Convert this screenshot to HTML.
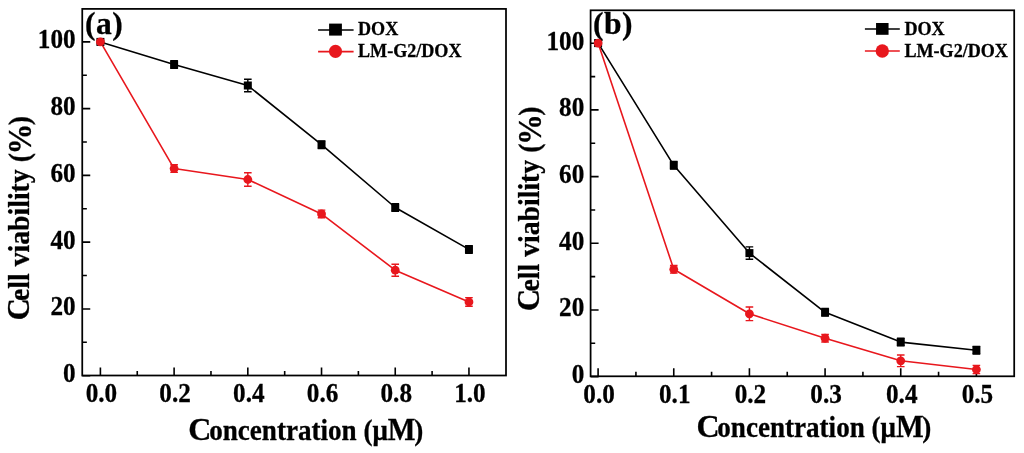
<!DOCTYPE html>
<html><head><meta charset="utf-8"><style>
html,body{margin:0;padding:0;background:#fff;}
svg{display:block;filter:blur(0.35px);}
text{font-family:"Liberation Serif",serif;font-weight:bold;fill:#000;stroke:#000;stroke-width:0.3px;}
.tx{font-size:28px;}
.ty{font-size:28px;}
.lg{font-size:18.7px;}
.ti{font-size:30px;}
.pl{font-size:31.5px;letter-spacing:0.5px;}
</style></head><body>
<svg width="1024" height="453" viewBox="0 0 1024 453">
<rect width="1024" height="453" fill="#fff"/>
<rect x="82.25" y="8.90" width="423.75" height="366.60" fill="none" stroke="#000" stroke-width="1.75"/>
<path d="M100.40,375.50V367.50M174.11,375.50V367.50M247.82,375.50V367.50M321.53,375.50V367.50M395.24,375.50V367.50M468.95,375.50V367.50M137.25,375.50V370.90M210.97,375.50V370.90M284.68,375.50V370.90M358.38,375.50V370.90M432.10,375.50V370.90M82.25,375.70H90.25M82.25,308.93H90.25M82.25,242.16H90.25M82.25,175.39H90.25M82.25,108.62H90.25M82.25,41.85H90.25M82.25,342.31H86.85M82.25,275.54H86.85M82.25,208.78H86.85M82.25,142.00H86.85M82.25,75.24H86.85" stroke="#000" stroke-width="1.6" fill="none"/>
<text transform="translate(101.40,401.90) scale(0.9,1)" text-anchor="middle" class="tx">0.0</text>
<text transform="translate(175.11,401.90) scale(0.9,1)" text-anchor="middle" class="tx">0.2</text>
<text transform="translate(248.82,401.90) scale(0.9,1)" text-anchor="middle" class="tx">0.4</text>
<text transform="translate(322.53,401.90) scale(0.9,1)" text-anchor="middle" class="tx">0.6</text>
<text transform="translate(396.24,401.90) scale(0.9,1)" text-anchor="middle" class="tx">0.8</text>
<text transform="translate(469.95,401.90) scale(0.9,1)" text-anchor="middle" class="tx">1.0</text>
<text transform="translate(75.60,382.20) scale(0.9,1)" text-anchor="end" class="ty">0</text>
<text transform="translate(75.60,315.43) scale(0.9,1)" text-anchor="end" class="ty">20</text>
<text transform="translate(75.60,248.66) scale(0.9,1)" text-anchor="end" class="ty">40</text>
<text transform="translate(75.60,181.89) scale(0.9,1)" text-anchor="end" class="ty">60</text>
<text transform="translate(75.60,115.12) scale(0.9,1)" text-anchor="end" class="ty">80</text>
<text transform="translate(75.60,48.35) scale(0.9,1)" text-anchor="end" class="ty">100</text>
<rect x="590.60" y="10.30" width="423.60" height="366.00" fill="none" stroke="#000" stroke-width="1.75"/>
<path d="M598.10,376.30V368.30M673.76,376.30V368.30M749.42,376.30V368.30M825.08,376.30V368.30M900.74,376.30V368.30M976.40,376.30V368.30M635.93,376.30V371.70M711.59,376.30V371.70M787.25,376.30V371.70M862.91,376.30V371.70M938.57,376.30V371.70M590.60,376.60H598.60M590.60,309.93H598.60M590.60,243.26H598.60M590.60,176.59H598.60M590.60,109.92H598.60M590.60,43.25H598.60M590.60,343.27H595.20M590.60,276.60H595.20M590.60,209.93H595.20M590.60,143.26H595.20M590.60,76.59H595.20" stroke="#000" stroke-width="1.6" fill="none"/>
<text transform="translate(599.10,402.80) scale(0.9,1)" text-anchor="middle" class="tx">0.0</text>
<text transform="translate(674.76,402.80) scale(0.9,1)" text-anchor="middle" class="tx">0.1</text>
<text transform="translate(750.42,402.80) scale(0.9,1)" text-anchor="middle" class="tx">0.2</text>
<text transform="translate(826.08,402.80) scale(0.9,1)" text-anchor="middle" class="tx">0.3</text>
<text transform="translate(901.74,402.80) scale(0.9,1)" text-anchor="middle" class="tx">0.4</text>
<text transform="translate(977.40,402.80) scale(0.9,1)" text-anchor="middle" class="tx">0.5</text>
<text transform="translate(584.30,383.10) scale(0.9,1)" text-anchor="end" class="ty">0</text>
<text transform="translate(584.30,316.43) scale(0.9,1)" text-anchor="end" class="ty">20</text>
<text transform="translate(584.30,249.76) scale(0.9,1)" text-anchor="end" class="ty">40</text>
<text transform="translate(584.30,183.09) scale(0.9,1)" text-anchor="end" class="ty">60</text>
<text transform="translate(584.30,116.42) scale(0.9,1)" text-anchor="end" class="ty">80</text>
<text transform="translate(584.30,49.75) scale(0.9,1)" text-anchor="end" class="ty">100</text>
<path d="M318.1,30.0H353.6" stroke="#000" stroke-width="1.5"/>
<rect x="329.10" y="23.60" width="12.8" height="12.0" fill="#000"/>
<path d="M318.1,51.6H353.6" stroke="#e8171d" stroke-width="1.6"/>
<circle cx="335.50" cy="51.4" r="6.55" fill="#e8171d"/>
<text transform="translate(358.0,35.0) scale(0.968,1)" class="lg">DOX</text>
<text transform="translate(358.0,57.4) scale(0.968,1)" class="lg">LM-G2/DOX</text>
<path d="M864.9,28.9H899.8" stroke="#000" stroke-width="1.5"/>
<rect x="876.05" y="23.00" width="12.5" height="11.8" fill="#000"/>
<path d="M864.9,51.0H899.8" stroke="#e8171d" stroke-width="1.6"/>
<circle cx="882.30" cy="51.0" r="6.65" fill="#e8171d"/>
<text transform="translate(904.4,34.6) scale(0.968,1)" class="lg">DOX</text>
<text transform="translate(904.4,57.0) scale(0.968,1)" class="lg">LM-G2/DOX</text>
<text x="188.2" y="439.6" class="ti" style="font-size:32px">C</text><text transform="translate(209.2,439.6) scale(0.903,1)" class="ti">oncentration (μ<tspan font-size="32.5">M</tspan><tspan dx="-1.4">)</tspan></text>
<text x="696.4" y="437.3" class="ti" style="font-size:32px">C</text><text transform="translate(717.3,437.3) scale(0.903,1)" class="ti">oncentration (μ<tspan font-size="32.5">M</tspan><tspan dx="-1.4">)</tspan></text>
<text transform="translate(29.0,320.3) rotate(-90)" class="ti" style="font-size:30.5px">C</text><text transform="translate(29.0,301.0) rotate(-90) scale(0.925,1)" class="ti">ell viability (<tspan font-size="33" dx="-1.2" dy="1.6">%</tspan><tspan dx="-1.6" dy="-1.6">)</tspan></text>
<text transform="translate(539.2,311.0) rotate(-90)" class="ti" style="font-size:30.5px">C</text><text transform="translate(539.2,291.5) rotate(-90) scale(0.925,1)" class="ti">ell viability (<tspan font-size="33" dx="-1.2" dy="1.6">%</tspan><tspan dx="-1.6" dy="-1.6">)</tspan></text>
<text x="84.9" y="34.3" class="pl">(a)</text>
<text x="592.9" y="34.3" class="pl">(b)</text>
<polyline points="100.40,41.90 174.11,64.60 247.82,85.50 321.53,144.65 395.24,207.50 468.95,249.40" fill="none" stroke="#000" stroke-width="1.6" stroke-linejoin="round"/>
<polyline points="100.40,41.90 174.11,168.55 247.82,179.50 321.53,213.95 395.24,270.20 468.95,301.95" fill="none" stroke="#e8171d" stroke-width="1.6" stroke-linejoin="round"/>

<rect x="96.40" y="37.90" width="8" height="8" fill="#000"/>
<path d="M174.11,60.80V68.40M170.31,60.80H177.91M170.31,68.40H177.91" stroke="#000" stroke-width="1.4" fill="none"/>
<rect x="170.11" y="60.60" width="8" height="8" fill="#000"/>
<path d="M247.82,79.30V91.70M244.02,79.30H251.62M244.02,91.70H251.62" stroke="#000" stroke-width="1.4" fill="none"/>
<rect x="243.82" y="81.50" width="8" height="8" fill="#000"/>
<path d="M321.53,140.85V148.45M317.73,140.85H325.33M317.73,148.45H325.33" stroke="#000" stroke-width="1.4" fill="none"/>
<rect x="317.53" y="140.65" width="8" height="8" fill="#000"/>
<path d="M395.24,203.70V211.30M391.44,203.70H399.04M391.44,211.30H399.04" stroke="#000" stroke-width="1.4" fill="none"/>
<rect x="391.24" y="203.50" width="8" height="8" fill="#000"/>
<path d="M468.95,245.60V253.20M465.15,245.60H472.75M465.15,253.20H472.75" stroke="#000" stroke-width="1.4" fill="none"/>
<rect x="464.95" y="245.40" width="8" height="8" fill="#000"/>

<circle cx="100.40" cy="41.90" r="4.4" fill="#e8171d"/>
<path d="M174.11,164.75V172.35M170.31,164.75H177.91M170.31,172.35H177.91" stroke="#e8171d" stroke-width="1.4" fill="none"/>
<circle cx="174.11" cy="168.55" r="4.4" fill="#e8171d"/>
<path d="M247.82,172.80V186.20M244.02,172.80H251.62M244.02,186.20H251.62" stroke="#e8171d" stroke-width="1.4" fill="none"/>
<circle cx="247.82" cy="179.50" r="4.4" fill="#e8171d"/>
<path d="M321.53,210.15V217.75M317.73,210.15H325.33M317.73,217.75H325.33" stroke="#e8171d" stroke-width="1.4" fill="none"/>
<circle cx="321.53" cy="213.95" r="4.4" fill="#e8171d"/>
<path d="M395.24,264.20V276.20M391.44,264.20H399.04M391.44,276.20H399.04" stroke="#e8171d" stroke-width="1.4" fill="none"/>
<circle cx="395.24" cy="270.20" r="4.4" fill="#e8171d"/>
<path d="M468.95,297.60V306.30M465.15,297.60H472.75M465.15,306.30H472.75" stroke="#e8171d" stroke-width="1.4" fill="none"/>
<circle cx="468.95" cy="301.95" r="4.4" fill="#e8171d"/>
<polyline points="598.10,43.10 673.76,165.35 749.42,253.10 825.08,312.35 900.74,342.10 976.40,350.20" fill="none" stroke="#000" stroke-width="1.6" stroke-linejoin="round"/>
<polyline points="598.10,43.10 673.76,269.30 749.42,313.80 825.08,338.25 900.74,360.80 976.40,369.50" fill="none" stroke="#e8171d" stroke-width="1.6" stroke-linejoin="round"/>

<rect x="594.10" y="39.10" width="8" height="8" fill="#000"/>
<path d="M673.76,161.55V169.15M669.96,161.55H677.56M669.96,169.15H677.56" stroke="#000" stroke-width="1.4" fill="none"/>
<rect x="669.76" y="161.35" width="8" height="8" fill="#000"/>
<path d="M749.42,246.90V259.30M745.62,246.90H753.22M745.62,259.30H753.22" stroke="#000" stroke-width="1.4" fill="none"/>
<rect x="745.42" y="249.10" width="8" height="8" fill="#000"/>
<path d="M825.08,308.55V316.15M821.28,308.55H828.88M821.28,316.15H828.88" stroke="#000" stroke-width="1.4" fill="none"/>
<rect x="821.08" y="308.35" width="8" height="8" fill="#000"/>
<path d="M900.74,338.30V345.90M896.94,338.30H904.54M896.94,345.90H904.54" stroke="#000" stroke-width="1.4" fill="none"/>
<rect x="896.74" y="338.10" width="8" height="8" fill="#000"/>
<path d="M976.40,346.40V354.00M972.60,346.40H980.20M972.60,354.00H980.20" stroke="#000" stroke-width="1.4" fill="none"/>
<rect x="972.40" y="346.20" width="8" height="8" fill="#000"/>

<circle cx="598.10" cy="43.10" r="4.4" fill="#e8171d"/>
<path d="M673.76,265.50V273.10M669.96,265.50H677.56M669.96,273.10H677.56" stroke="#e8171d" stroke-width="1.4" fill="none"/>
<circle cx="673.76" cy="269.30" r="4.4" fill="#e8171d"/>
<path d="M749.42,307.00V320.60M745.62,307.00H753.22M745.62,320.60H753.22" stroke="#e8171d" stroke-width="1.4" fill="none"/>
<circle cx="749.42" cy="313.80" r="4.4" fill="#e8171d"/>
<path d="M825.08,334.45V342.05M821.28,334.45H828.88M821.28,342.05H828.88" stroke="#e8171d" stroke-width="1.4" fill="none"/>
<circle cx="825.08" cy="338.25" r="4.4" fill="#e8171d"/>
<path d="M900.74,355.00V366.60M896.94,355.00H904.54M896.94,366.60H904.54" stroke="#e8171d" stroke-width="1.4" fill="none"/>
<circle cx="900.74" cy="360.80" r="4.4" fill="#e8171d"/>
<path d="M976.40,365.40V373.60M972.60,365.40H980.20M972.60,373.60H980.20" stroke="#e8171d" stroke-width="1.4" fill="none"/>
<circle cx="976.40" cy="369.50" r="4.4" fill="#e8171d"/>
</svg>
</body></html>
